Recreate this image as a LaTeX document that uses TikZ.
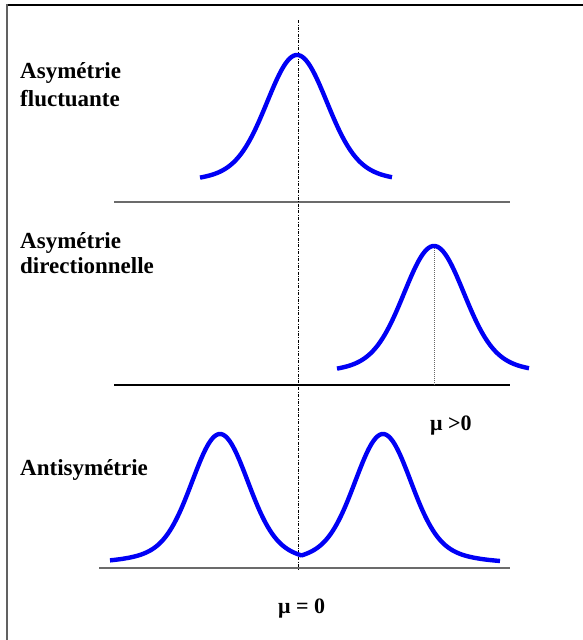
\documentclass[tikz,border=0pt]{standalone}
\usepackage{fontspec}
\setmainfont{Liberation Serif}
\newfontfamily\lserif{Liberation Serif}
\begin{document}
\begin{tikzpicture}[x=1pt,y=-1pt,
  declare function={pk(\t,\s)=0.85*exp(-(\t)^2/(2*\s*\s))+0.15*exp(-(\t)^2/(2*55*55));},
  curve/.style={draw={rgb,255:red,0;green,0;blue,245}, line width=4.4pt, line join=round},
  lbl/.style={anchor=base west, inner sep=0pt, font=\lserif\bfseries\fontsize{23}{28}\selectfont},
  mulbl/.style={anchor=base west, inner sep=0pt, font=\lserif\bfseries\fontsize{22}{26}\selectfont},
  axisgray/.style={draw=black!58, line width=1.6pt},
  axisblack/.style={draw=black, line width=1.2pt},
  center line/.style={draw=black, line width=0.7pt, dash pattern=on 3pt off 1.5pt on 0.8pt off 1.5pt},
  peak line/.style={draw=black!60, line width=0.6pt, dash pattern=on 1pt off 1pt}]
\useasboundingbox (0,0) rectangle (583,640);
\fill[white] (0,0) rectangle (583,640);
% frame
\draw[black, line width=2pt] (6,4.5) -- (583,4.5);
\draw[black!62, line width=2pt] (7,4) -- (7,640);
% axes
\coordinate (a1l) at (114,202); \coordinate (a1r) at (510,202);
\coordinate (a2l) at (114,385); \coordinate (a2r) at (510,385);
\coordinate (a3l) at (99,568);  \coordinate (a3r) at (510,568);
\draw[axisgray] (a1l) -- (a1r);
\draw[axisblack] (a2l) -- (a2r);
\draw[axisgray] (a3l) -- (a3r);
% vertical reference lines
\coordinate (ct) at (298,20); \coordinate (cb) at (298,570);
\draw[center line] (ct) -- (cb);
\coordinate (pt) at (434,248); \coordinate (pb) at (434,385);
\draw[peak line] (pt) -- (pb);
% curves
\draw[curve] plot[domain=200:392, samples=140] (\x,{182-127*pk(\x-297,29)});
\draw[curve] plot[domain=337:529, samples=140] (\x,{373-127*pk(\x-434,29)});
\draw[curve] plot[domain=110:301.5, samples=140] (\x,{563-129*pk(\x-220,27)})
   -- plot[domain=301.5:500, samples=140] (\x,{563-129*pk(\x-383,27)});
% labels
\node[lbl] (t1a) at (20,78) {Asymétrie};
\node[lbl] (t1b) at (20,106) {fluctuante};
\node[lbl] (t2a) at (20,248) {Asymétrie};
\node[lbl] (t2b) at (20,273) {directionnelle};
\node[lbl] (t3) at (20,475) {Antisymétrie};
\node[mulbl] (mu1) at (430,430) {μ >0};
\node[mulbl] (mu0) at (278,613) {μ = 0};
\end{tikzpicture}
\end{document}
